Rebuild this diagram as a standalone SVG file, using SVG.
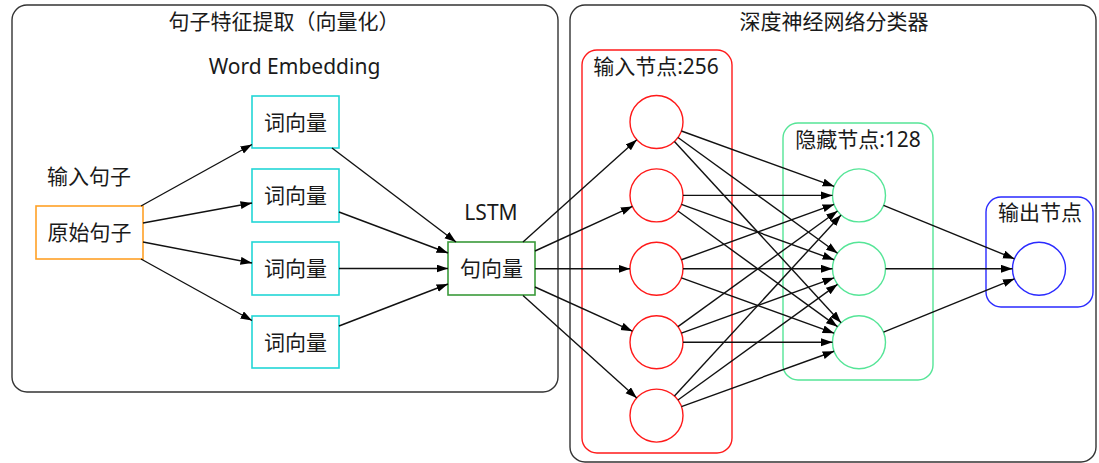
<svg xmlns="http://www.w3.org/2000/svg" width="1099" height="463" viewBox="0 0 1099 463">
<defs>
<marker id="ah" markerUnits="userSpaceOnUse" markerWidth="13" markerHeight="9" refX="11.5" refY="4" orient="auto">
<path d="M0,0 L11.5,4 L0,8 z" fill="#000"/>
</marker>
<style>
.t{font-family:"Noto Sans","Noto Sans CJK SC",sans-serif;font-size:21px;fill:#1a1a1a;text-anchor:middle}
.cl{fill:none;stroke:#333;stroke-width:1.4}
.e line{stroke:#111;stroke-width:1.4;marker-end:url(#ah)}
.wv{fill:#fff;stroke:#22d6d6;stroke-width:1.6}
.rc{fill:#fff;stroke:#ff1a1a;stroke-width:1.4}
.gc{fill:#fff;stroke:#55e597;stroke-width:1.4}
</style>
</defs>
<rect width="1099" height="463" fill="#fff"/>
<g id="cluster-feature">
<rect class="cl" x="12" y="5" width="546" height="387" rx="15"/>
<text class="t" x="284" y="28.5">句子特征提取（向量化）</text>
<text class="t" x="294.5" y="73.5">Word Embedding</text>
</g>
<g id="cluster-dnn">
<rect class="cl" x="570" y="5" width="526" height="457" rx="15"/>
<text class="t" x="834" y="28.5">深度神经网络分类器</text>
</g>
<g id="cluster-input">
<rect x="582" y="50" width="150" height="403" rx="15" fill="none" stroke="#ff1a1a" stroke-width="1.4"/>
<text class="t" x="656" y="73.5">输入节点:256</text>
</g>
<g id="cluster-hidden">
<rect x="783" y="123" width="150" height="257" rx="15" fill="none" stroke="#55e597" stroke-width="1.4"/>
<text class="t" x="858" y="147">隐藏节点:128</text>
</g>
<g id="cluster-output">
<rect x="986" y="197" width="107" height="110" rx="15" fill="none" stroke="#2a2aff" stroke-width="1.4"/>
<text class="t" x="1040" y="219.5">输出节点</text>
</g>
<g id="raw">
<text class="t" x="89" y="184">输入句子</text>
<rect x="36" y="206" width="107" height="53" fill="#fff" stroke="#ffa126" stroke-width="1.6"/>
<text class="t" x="89.5" y="240">原始句子</text>
</g>
<g id="wv1"><rect class="wv" x="252" y="96" width="87" height="52"/><text class="t" x="295.5" y="129.5">词向量</text></g>
<g id="wv2"><rect class="wv" x="252" y="169" width="87" height="53"/><text class="t" x="295.5" y="203">词向量</text></g>
<g id="wv3"><rect class="wv" x="252" y="242" width="87" height="53"/><text class="t" x="295.5" y="276">词向量</text></g>
<g id="wv4"><rect class="wv" x="252" y="316" width="87" height="52"/><text class="t" x="295.5" y="349.5">词向量</text></g>
<g id="sv">
<text class="t" x="491" y="219.5">LSTM</text>
<rect x="448" y="242" width="87" height="53" fill="#fff" stroke="#3a9a3a" stroke-width="1.6"/>
<text class="t" x="491.5" y="276">句向量</text>
</g>
<g id="in1"><circle class="rc" cx="656.5" cy="122" r="26.5"/></g>
<g id="in2"><circle class="rc" cx="656.5" cy="195.4" r="26.5"/></g>
<g id="in3"><circle class="rc" cx="656.5" cy="268.8" r="26.5"/></g>
<g id="in4"><circle class="rc" cx="656.5" cy="342.2" r="26.5"/></g>
<g id="in5"><circle class="rc" cx="656.5" cy="415.6" r="26.5"/></g>
<g id="h1"><circle class="gc" cx="859" cy="195.4" r="26.5"/></g>
<g id="h2"><circle class="gc" cx="859" cy="268.8" r="26.5"/></g>
<g id="h3"><circle class="gc" cx="859" cy="342.2" r="26.5"/></g>
<g id="out"><circle cx="1039" cy="268.8" r="26.5" fill="#fff" stroke="#2a2aff" stroke-width="1.4"/></g>
<g id="connectors" class="e">
<line x1="141" y1="206" x2="252" y2="144.5"/>
<line x1="143" y1="223" x2="252" y2="203"/>
<line x1="143" y1="242" x2="252" y2="263"/>
<line x1="141" y1="259" x2="252" y2="320.5"/>
<line x1="332" y1="148" x2="456" y2="242"/>
<line x1="339" y1="212" x2="448" y2="253"/>
<line x1="339" y1="268.5" x2="448" y2="268.5"/>
<line x1="339" y1="326" x2="448" y2="284"/>
<line x1="523" y1="242" x2="636.8" y2="139.7"/>
<line x1="535" y1="251" x2="632.4" y2="206.4"/>
<line x1="535" y1="268.8" x2="630" y2="268.8"/>
<line x1="535" y1="287" x2="632.4" y2="331.2"/>
<line x1="523" y1="295.5" x2="636.8" y2="397.9"/>
<line x1="681.41" y1="131.03" x2="834.09" y2="186.37"/>
<line x1="677.96" y1="137.55" x2="837.55" y2="253.25"/>
<line x1="674.44" y1="141.51" x2="841.06" y2="322.69"/>
<line x1="683" y1="195.4" x2="832.5" y2="195.4"/>
<line x1="681.41" y1="204.43" x2="834.09" y2="259.77"/>
<line x1="677.96" y1="210.95" x2="837.55" y2="326.65"/>
<line x1="681.41" y1="259.77" x2="834.09" y2="204.43"/>
<line x1="683" y1="268.8" x2="832.5" y2="268.8"/>
<line x1="681.41" y1="277.83" x2="834.09" y2="333.17"/>
<line x1="677.96" y1="326.65" x2="837.55" y2="210.95"/>
<line x1="681.41" y1="333.17" x2="834.09" y2="277.83"/>
<line x1="683" y1="342.2" x2="832.5" y2="342.2"/>
<line x1="674.44" y1="396.09" x2="841.06" y2="214.91"/>
<line x1="677.96" y1="400.05" x2="837.55" y2="284.35"/>
<line x1="681.41" y1="406.57" x2="834.09" y2="351.23"/>
<line x1="883.54" y1="205.41" x2="1014.46" y2="258.79"/>
<line x1="885.5" y1="268.8" x2="1012.5" y2="268.8"/>
<line x1="883.54" y1="332.19" x2="1014.46" y2="278.81"/>
</g>
</svg>
